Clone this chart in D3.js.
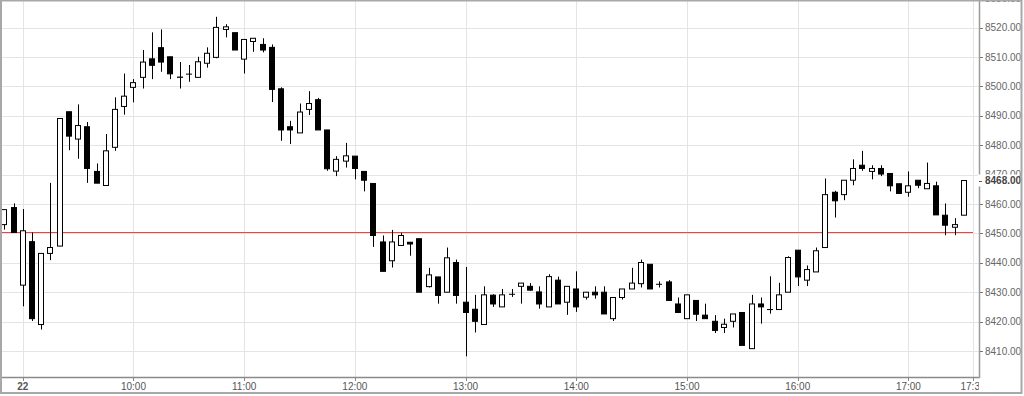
<!DOCTYPE html>
<html>
<head>
<meta charset="utf-8">
<script src="https://cdn.jsdelivr.net/npm/d3@7"></script>
<style>
  html, body { margin: 0; padding: 0; background: #fff; }
  svg { display: block; font-family: "Liberation Sans", Arial, sans-serif; }
</style>
</head>
<body>
<svg id="chart" width="1024" height="396"></svg>
<script>
// ---- data ----
const times = [
  "08:50","08:55","09:00","09:05","09:10","09:15","09:20","09:25","09:30","09:35","09:40","09:45","09:50","09:55",
  "10:00","10:05","10:10","10:15","10:20","10:25","10:30","10:35","10:40","10:45","10:50","10:55",
  "11:00","11:05","11:10","11:15","11:20","11:25","11:30","11:35","11:40","11:45","11:50","11:55",
  "12:00","12:05","12:10","12:15","12:20","12:25","12:30","12:35","12:40","12:45","12:50","12:55",
  "13:00","13:05","13:10","13:15","13:20","13:25","13:30","13:35","13:40","13:45","13:50","13:55",
  "14:00","14:05","14:10","14:15","14:20","14:25","14:30","14:35","14:40","14:45","14:50","14:55",
  "15:00","15:05","15:10","15:15","15:20","15:25","15:30","15:35","15:40","15:45","15:50","15:55",
  "16:00","16:05","16:10","16:15","16:20","16:25","16:30","16:35","16:40","16:45","16:50","16:55",
  "17:00","17:05","17:10","17:15","17:20","17:25","17:30"
];
const open = [
  8453.0,8458.8,8432.4,8447.2,8419.0,8443.2,8445.7,8491.4,8482.1,8486.3,8471.1,8466.3,8479.3,8493.2,
  8499.7,8503.1,8509.4,8513.2,8510.1,8503.1,8504.2,8503.1,8507.9,8509.9,8519.4,8518.3,
  8509.3,8515.3,8514.3,8513.3,8499.2,8486.3,8484.2,8492.2,8495.5,8485.2,8471.2,8474.6,
  8476.3,8471.1,8467.0,8447.1,8440.7,8445.9,8447.0,8448.2,8431.9,8435.2,8430.0,8440.1,
  8426.6,8424.2,8419.0,8429.0,8425.0,8429.3,8432.0,8432.0,8430.1,8425.0,8434.1,8426.6,
  8431.1,8428.3,8430.0,8430.0,8421.0,8428.2,8431.1,8432.9,8439.5,8432.7,8433.5,8426.0,
  8421.0,8427.2,8422.2,8420.1,8418.0,8420.1,8423.1,8410.8,8426.0,8424.1,8424.1,8430.0,
  8444.3,8434.1,8436.9,8445.2,8464.0,8463.2,8468.1,8473.2,8471.1,8472.1,8470.4,8466.9,
  8464.0,8468.1,8465.2,8466.2,8456.2,8452.1,8456.2
];
const high = [
  8458.1,8460.2,8458.3,8450.3,8443.2,8467.2,8489.1,8491.4,8493.9,8487.9,8473.8,8483.8,8496.3,8504.4,
  8502.5,8512.4,8518.4,8519.4,8510.1,8508.3,8507.3,8510.1,8513.3,8523.7,8521.2,8518.3,
  8516.0,8516.4,8516.4,8514.3,8499.7,8488.3,8494.2,8498.4,8496.1,8485.2,8476.3,8480.8,
  8476.3,8471.1,8467.0,8449.3,8451.2,8450.2,8447.0,8448.2,8438.3,8435.2,8445.2,8441.1,
  8438.6,8429.1,8432.0,8429.3,8431.1,8431.1,8433.1,8433.1,8432.0,8436.1,8435.3,8432.0,
  8437.1,8430.0,8432.0,8432.0,8428.2,8431.1,8438.3,8441.1,8439.5,8433.7,8434.1,8428.2,
  8429.1,8427.2,8426.1,8422.2,8421.0,8422.6,8423.1,8429.1,8428.2,8435.4,8433.2,8442.2,
  8444.3,8439.1,8445.2,8468.7,8464.5,8468.1,8475.2,8478.1,8473.2,8473.2,8470.4,8466.9,
  8471.1,8468.1,8474.1,8467.6,8460.2,8455.2,8468.0
];
const low = [
  8451.3,8450.3,8425.2,8420.2,8417.3,8440.9,8445.7,8478.3,8475.4,8467.2,8467.1,8466.3,8478.1,8490.4,
  8494.6,8499.3,8502.5,8505.0,8502.5,8499.3,8501.6,8503.1,8506.4,8509.6,8516.7,8512.4,
  8504.4,8511.8,8511.6,8494.7,8481.5,8480.4,8484.2,8490.3,8485.2,8471.3,8469.5,8472.4,
  8468.4,8464.3,8445.4,8437.1,8438.4,8445.9,8442.4,8430.0,8431.6,8426.1,8430.0,8426.1,
  8408.2,8416.3,8419.0,8425.0,8425.0,8428.4,8426.1,8430.5,8424.4,8425.0,8426.0,8422.3,
  8423.3,8427.5,8427.8,8422.6,8420.2,8427.5,8431.1,8431.6,8431.1,8431.6,8427.2,8423.1,
  8421.0,8420.2,8421.0,8416.1,8416.1,8418.0,8411.9,8410.8,8419.3,8422.7,8424.1,8430.0,
  8432.1,8432.1,8436.9,8445.2,8455.4,8461.3,8466.4,8471.3,8468.4,8469.5,8464.3,8463.6,
  8462.5,8465.4,8465.2,8456.3,8449.4,8449.4,8456.2
];
const close = [
  8458.1,8450.3,8450.9,8421.0,8443.2,8445.2,8489.1,8483.1,8486.7,8472.1,8467.1,8478.1,8492.2,8496.7,
  8501.3,8508.3,8507.2,8508.3,8504.3,8503.2,8504.2,8508.4,8511.3,8520.1,8520.3,8512.4,
  8516.0,8516.4,8512.4,8499.0,8485.2,8485.2,8491.3,8494.2,8485.2,8472.0,8475.2,8476.4,
  8472.1,8468.1,8449.3,8437.1,8447.1,8449.3,8446.4,8430.0,8435.9,8428.9,8441.7,8428.9,
  8423.1,8420.1,8429.1,8426.0,8429.1,8429.3,8433.1,8430.7,8426.0,8435.3,8426.0,8432.0,
  8425.0,8430.0,8429.1,8422.6,8428.2,8431.1,8433.1,8440.1,8431.1,8432.7,8427.2,8423.1,
  8429.1,8422.5,8421.0,8417.0,8419.1,8422.6,8411.9,8426.0,8425.0,8424.1,8429.1,8441.8,
  8435.2,8437.7,8444.1,8463.2,8461.1,8468.1,8472.1,8472.1,8472.1,8470.2,8466.2,8463.6,
  8466.2,8466.4,8467.0,8456.3,8452.8,8453.0,8468.0
];
const yTicks = [8410, 8420, 8430, 8440, 8450, 8460, 8470, 8480, 8490, 8500, 8510, 8520, 8530];
const xTickTimes = ["09:00","10:00","11:00","12:00","13:00","14:00","15:00","16:00","17:00","17:35"];
const xTickLabels = ["22","10:00","11:00","12:00","13:00","14:00","15:00","16:00","17:00","17:35"];
const refLevel = 8450.4;
const lastPrice = 8468.0;

// ---- layout ----
const plot = { left: 2, right: 979, top: 0, bottom: 377 };
const parse = d3.timeParse("%H:%M");

const x = d3.scaleTime()
  .domain([parse("08:50"), parse("17:35")])
  .range([4.3, 973]);
const y = d3.scaleLinear()
  .domain([8401.15, 8529.42])
  .range([plot.bottom, plot.top]);

const svg = d3.select("#chart");
const defs = svg.append("defs");
defs.append("clipPath").attr("id", "plotclip")
  .append("rect")
  .attr("x", plot.left).attr("y", plot.top)
  .attr("width", plot.right - plot.left).attr("height", plot.bottom - plot.top);
defs.append("clipPath").attr("id", "xclip")
  .append("rect").attr("x", 0).attr("y", plot.bottom).attr("width", plot.right).attr("height", 20);

const g = svg.append("g").attr("clip-path", "url(#plotclip)");

// grid
g.selectAll("line.hgrid").data(yTicks).join("line")
  .attr("class", "hgrid")
  .attr("x1", plot.left).attr("x2", plot.right)
  .attr("y1", d => Math.round(y(d)) + 0.5).attr("y2", d => Math.round(y(d)) + 0.5)
  .attr("stroke", "#e4e4e4").attr("stroke-width", 1);
g.selectAll("line.vgrid").data(xTickTimes).join("line")
  .attr("class", "vgrid")
  .attr("x1", d => Math.round(x(parse(d))) + 0.5).attr("x2", d => Math.round(x(parse(d))) + 0.5)
  .attr("y1", plot.top).attr("y2", plot.bottom)
  .attr("stroke", "#e4e4e4").attr("stroke-width", 1);

// reference line
g.append("line")
  .attr("x1", plot.left).attr("x2", x(parse("17:35")))
  .attr("y1", Math.round(y(refLevel)) + 0.5).attr("y2", Math.round(y(refLevel)) + 0.5)
  .attr("stroke", "#ff3b3b").attr("stroke-width", 1);

// candles
const candles = times.map((t, i) => ({ t: parse(t), o: open[i], h: high[i], l: low[i], c: close[i] }));
const bw = 6;
const cg = g.selectAll("g.candle").data(candles).join("g").attr("class", "candle");
cg.append("line")
  .attr("x1", d => Math.round(x(d.t)) + 0.5).attr("x2", d => Math.round(x(d.t)) + 0.5)
  .attr("y1", d => y(d.h)).attr("y2", d => y(d.l))
  .attr("stroke", "#000").attr("stroke-width", 1);
cg.append("rect")
  .attr("x", d => Math.round(x(d.t)) - bw / 2 + 0.5)
  .attr("y", d => y(Math.max(d.o, d.c)))
  .attr("width", bw - 1)
  .attr("height", d => Math.max(0.01, Math.abs(y(d.o) - y(d.c))))
  .attr("fill", d => d.c >= d.o ? "#fff" : "#000")
  .attr("stroke", "#000").attr("stroke-width", 1);

// axes lines
svg.append("line")
  .attr("x1", plot.left).attr("x2", plot.right + 1)
  .attr("y1", plot.bottom + 0.5).attr("y2", plot.bottom + 0.5)
  .attr("stroke", "#8a8a8a").attr("stroke-width", 1.5);
svg.append("line")
  .attr("x1", plot.right + 0.5).attr("x2", plot.right + 0.5)
  .attr("y1", 0).attr("y2", plot.bottom + 1)
  .attr("stroke", "#9a9a9a").attr("stroke-width", 1.5);

// y axis labels
const yl = svg.append("g");
yl.selectAll("line").data(yTicks).join("line")
  .attr("x1", plot.right + 1).attr("x2", plot.right + 4)
  .attr("y1", d => Math.round(y(d)) + 0.5).attr("y2", d => Math.round(y(d)) + 0.5)
  .attr("stroke", "#777");
yl.selectAll("text").data(yTicks).join("text")
  .attr("x", 985).attr("y", d => y(d)).attr("dy", "0.36em")
  .attr("font-size", 10).attr("fill", "#666")
  .text(d => d3.format(".2f")(d));

// last price label
const ly = y(lastPrice);
svg.append("rect").attr("x", plot.right - 1).attr("y", ly - 6).attr("width", 1020 - plot.right).attr("height", 12).attr("fill", "#fff");
svg.append("line").attr("x1", plot.right).attr("x2", plot.right + 3)
  .attr("y1", Math.round(ly) + 0.5).attr("y2", Math.round(ly) + 0.5).attr("stroke", "#555");
svg.append("text").attr("x", 985).attr("y", ly).attr("dy", "0.36em")
  .attr("font-size", 10).attr("font-weight", "bold").attr("fill", "#444")
  .text(d3.format(".2f")(lastPrice));

// x axis labels
const xl = svg.append("g").attr("clip-path", "url(#xclip)");
xl.selectAll("line").data(xTickTimes).join("line")
  .attr("x1", d => Math.round(x(parse(d))) + 0.5).attr("x2", d => Math.round(x(parse(d))) + 0.5)
  .attr("y1", plot.bottom).attr("y2", plot.bottom + 4)
  .attr("stroke", "#888");
xl.selectAll("text").data(xTickTimes).join("text")
  .attr("x", d => x(parse(d)))
  .attr("y", 389.5)
  .attr("text-anchor", "middle")
  .attr("font-size", 10)
  .attr("font-weight", (d, i) => i === 0 ? "bold" : "normal")
  .attr("fill", "#555")
  .text((d, i) => xTickLabels[i]);

// frame
svg.append("rect").attr("x", 1).attr("y", 0.5).attr("width", 1020.5).attr("height", 392.5)
  .attr("fill", "none").attr("stroke", "#a8a8a8").attr("stroke-width", 2);
</script>
</body>
</html>
